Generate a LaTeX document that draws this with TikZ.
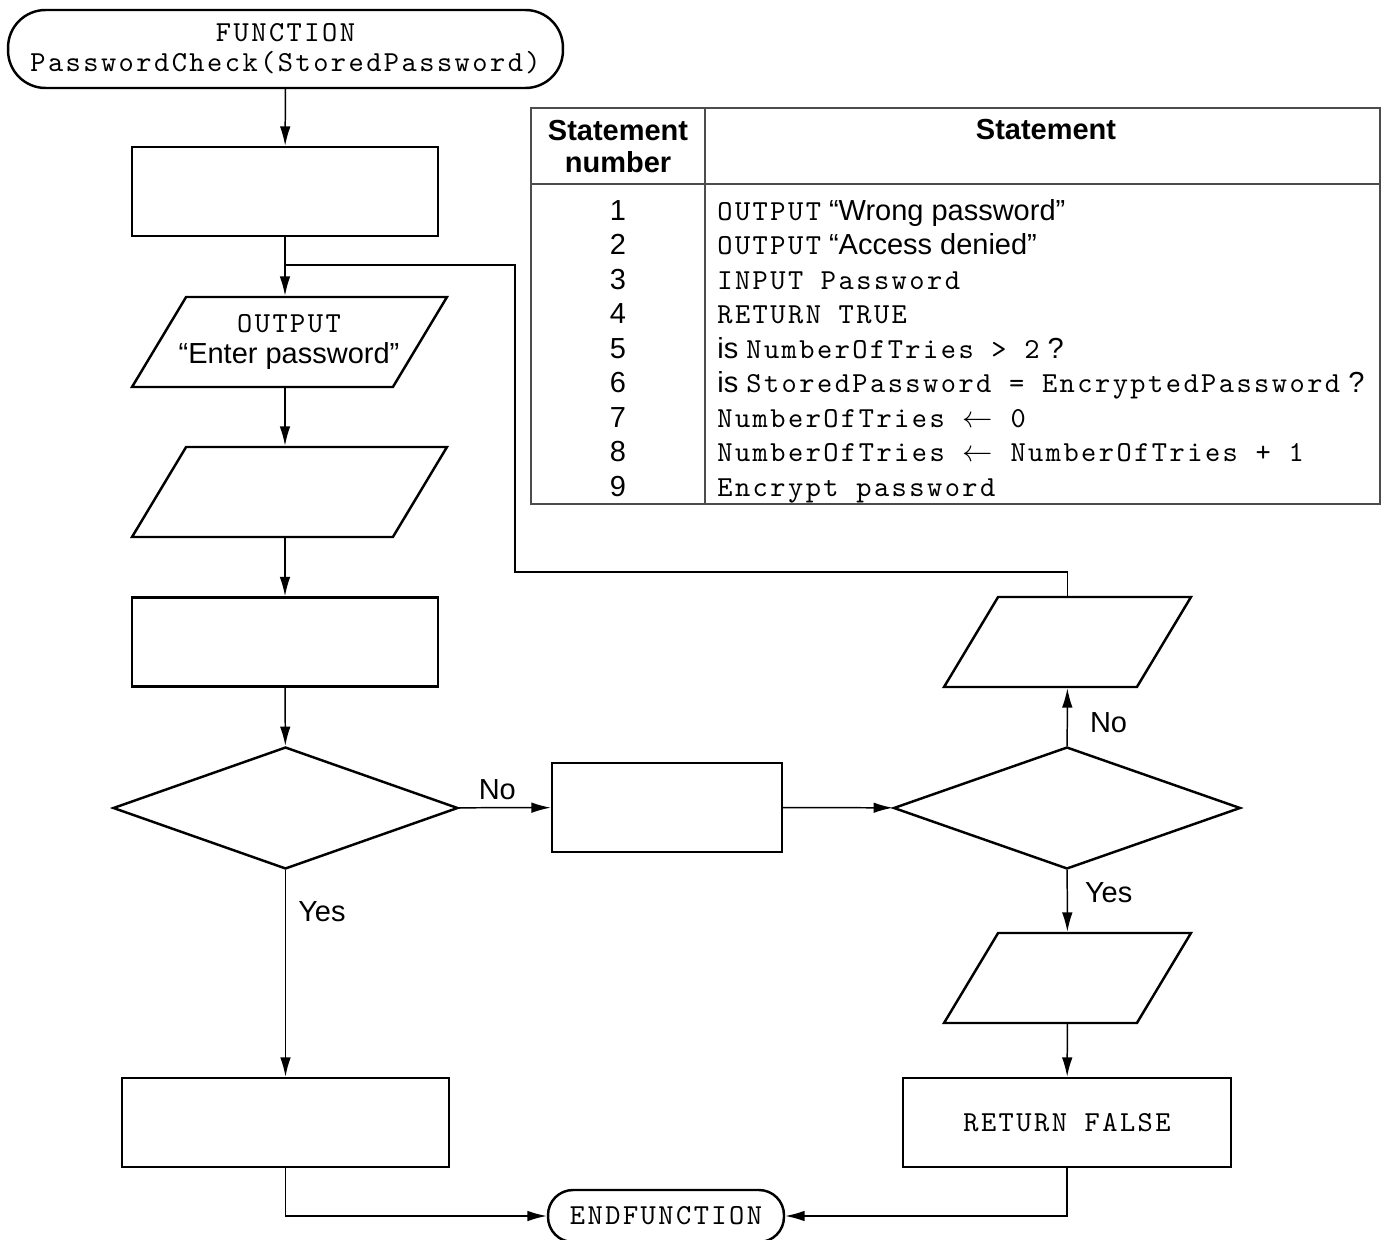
\documentclass[tikz,border=0pt]{standalone}
\usepackage{fontspec}
\setmainfont{Liberation Sans}
\setmonofont{lmmono10-regular.otf}[LetterSpace=8.5]
\usepackage{tikz}
\usetikzlibrary{arrows.meta}
\usetikzlibrary{shapes.geometric}
\newcommand{\flowfont}{\fontsize{16.5}{17}\selectfont}
\newcommand{\codetext}[1]{{\fontsize{16.5}{17}\selectfont\ttfamily #1}}
\newcommand{\iofill}{\rule{0pt}{1.8cm}}
\tikzstyle{block} = [rectangle, draw, line width=1.4pt,
    minimum width=6.12cm, minimum height=1.78cm, inner sep=0pt, font=\flowfont]
\tikzstyle{io} = [trapezium, trapezium left angle=59, trapezium right angle=121,
    trapezium stretches body=true, draw, line width=1.4pt, minimum width=6.3cm,
    minimum height=1.8cm, inner sep=0pt]
\tikzstyle{decision} = [diamond, draw, line width=1.4pt,
    minimum width=6.9cm, minimum height=2.44cm, inner sep=0pt]
\tikzstyle{terminal} = [rectangle, draw, rounded corners=0.75cm, line width=1.4pt,
    inner sep=0pt, align=center, font=\flowfont]
\tikzstyle{conn} = [line width=0.85pt]
\tikzstyle{flow} = [conn, -{Latex[length=11pt,width=6pt]}]
\tikzstyle{yesno} = [font=\flowfont, inner sep=4pt]
\tikzstyle{tabline} = [line width=0.6pt, black!70]
\tikzstyle{head} = [font=\flowfont\bfseries, align=center, inner sep=0pt]
\tikzstyle{num} = [font=\flowfont, inner sep=0pt]

\begin{document}
\begin{tikzpicture}[x=0.02cm, y=-0.02cm]
    \useasboundingbox (0,0) rectangle (1387,1240);

    % left column
    \node[terminal, minimum width=11.1cm, minimum height=1.56cm] (start) at (285.5,49)
        {\codetext{FUNCTION}\\[0pt]\codetext{PasswordCheck(StoredPassword)}};
    \node[block] (box1) at (285,191.5) {};
    \coordinate (merge) at (285,265);
    \node[io] (para1) at (289.5,342) {\iofill};
    \node[font=\flowfont, align=center, inner sep=0pt] (para1text) at (289,342)
        {\codetext{OUTPUT}\\[1pt]``Enter password''};
    \node[io] (para2) at (289.5,492) {\iofill};
    \node[block] (box2) at (285,642) {};
    \node[decision] (dia1) at (285.5,808) {};
    \node[block, minimum width=6.54cm] (box4) at (285.5,1122.5) {};

    % middle and right column
    \node[block, minimum width=4.6cm] (box3) at (667,807.5) {};
    \node[decision, minimum width=6.94cm] (dia2) at (1067,808) {};
    \node[io, minimum width=4.94cm] (para3) at (1067.5,642) {\iofill};
    \node[io, minimum width=4.94cm] (para4) at (1067.5,978) {\iofill};
    \node[block, minimum width=6.56cm] (box5) at (1067,1122.5) {\codetext{RETURN FALSE}};
    \node[terminal, minimum width=4.72cm, minimum height=1.04cm, rounded corners=0.5cm] (endf) at (666,1216)
        {\codetext{ENDFUNCTION}};

    % connectors
    \draw[flow] (start) -- (box1);
    \draw[conn] (box1) -- (merge);
    \draw[flow] (merge) -- (merge |- para1.north);
    \draw[flow] (merge |- para1.south) -- (merge |- para2.north);
    \draw[flow] (box2.north |- para2.south) -- (box2);
    \draw[flow] (box2) -- (dia1);
    \draw[flow] (dia1) -- node[yesno, above, pos=.42] {No} (box3);
    \draw[flow] (dia1) -- node[yesno, right, pos=.2, xshift=.1cm] {Yes} (box4);
    \draw[flow] (box3) -- (dia2);
    \draw[flow] (dia2) -- node[yesno, right, pos=.4, xshift=.3cm] {No} (para3);
    \draw[flow] (dia2) -- node[yesno, right, pos=.36, xshift=.2cm] {Yes} (para4);
    \draw[flow] (para4) -- (box5);
    \draw[conn] (para3.north) -- ++(0,-24) -| (515,265) -- (merge);
    \draw[flow] (box4) |- (endf);
    \draw[flow] (box5) |- (endf);

    % statement table
    \draw[tabline] (531,108) rectangle (1380,504);
    \draw[tabline] (705,108) -- (705,504);
    \draw[tabline] (531,184) -- (1380,184);
    \node[head, font=\fontsize{16.5}{18.7}\selectfont\bfseries] (hnum) at (618,146.5) {Statement\\number};
    \node[head] (hstmt) at (1046,130) {Statement};
    \foreach \n in {1,...,9}
        \node[num, anchor=base] (num\n) at (618,{220.5+34.44*(\n-1)}) {\n};
    \node[num, anchor=base west] (st1) at (717,220.5) {\codetext{OUTPUT} ``Wrong password''};
    \node[num, anchor=base west] (st2) at (717,254.9) {\codetext{OUTPUT} ``Access denied''};
    \node[num, anchor=base west] (st3) at (717,289.4) {\codetext{INPUT Password}};
    \node[num, anchor=base west] (st4) at (717,323.8) {\codetext{RETURN TRUE}};
    \node[num, anchor=base west] (st5) at (717,358.3) {is \codetext{NumberOfTries > 2} ?};
    \node[num, anchor=base west] (st6) at (717,392.7) {is \codetext{StoredPassword = EncryptedPassword} ?};
    \node[num, anchor=base west] (st7) at (717,427.1) {\codetext{NumberOfTries $\leftarrow$ 0}};
    \node[num, anchor=base west] (st8) at (717,461.6) {\codetext{NumberOfTries $\leftarrow$ NumberOfTries + 1}};
    \node[num, anchor=base west] (st9) at (717,496.0) {\codetext{Encrypt password}};
\end{tikzpicture}
\end{document}
